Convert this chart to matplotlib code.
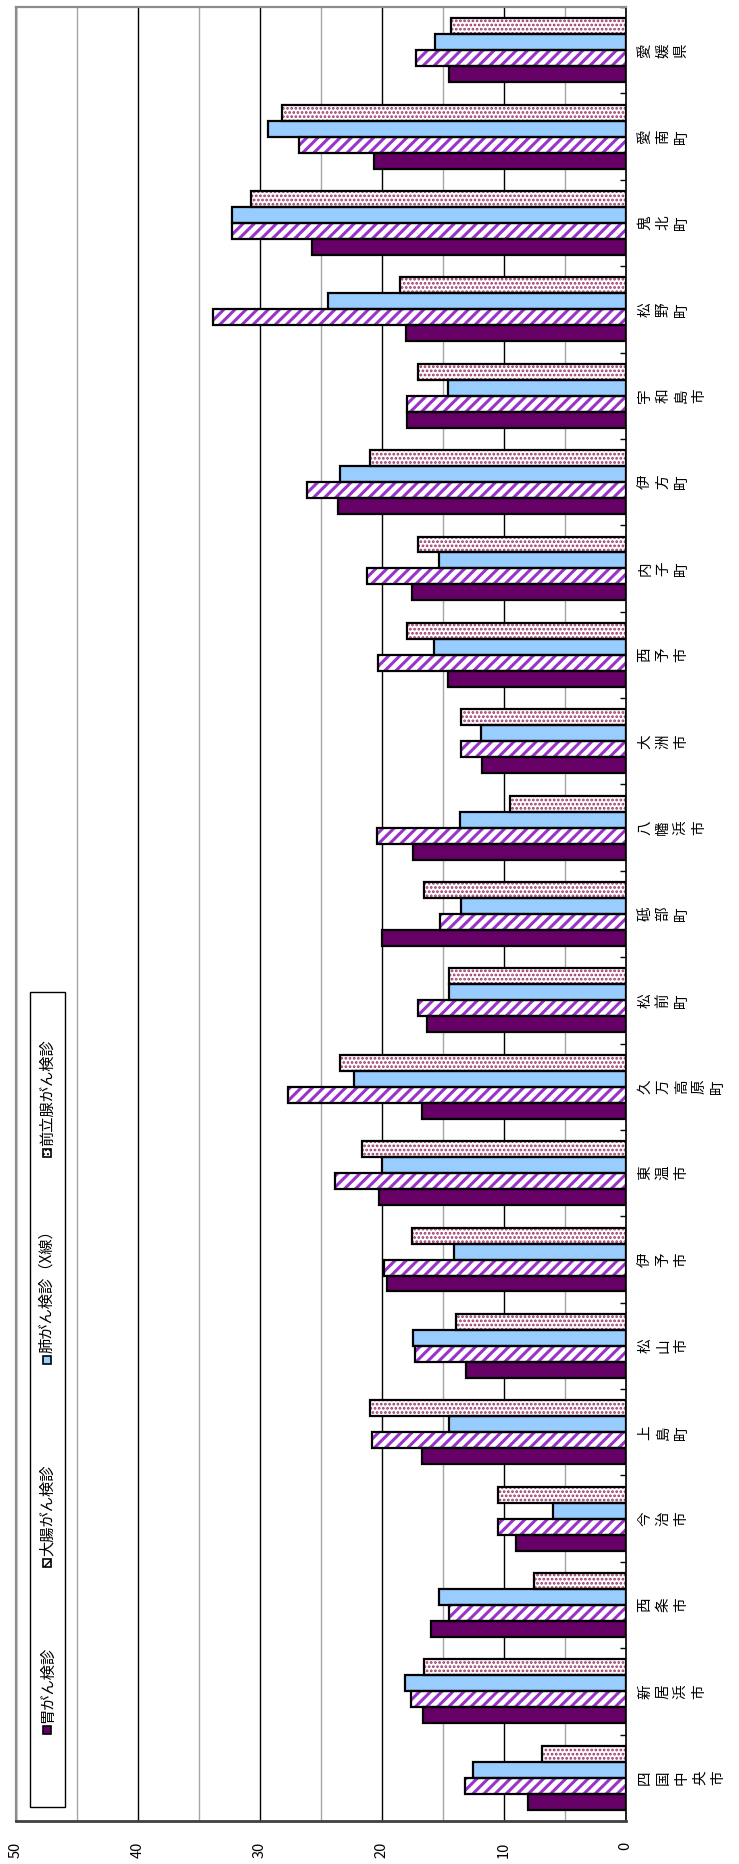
import matplotlib
matplotlib.use('Agg')
import matplotlib.pyplot as plt
from matplotlib.patches import Rectangle
import numpy as np

plt.rcParams['font.family'] = ['Noto Sans CJK JP', 'DejaVu Sans']

# Municipalities (bottom to top) and screening rates (%)
areas = ['四国中央市', '新居浜市', '西条市', '今治市', '上島町', '松山市', '伊予市',
         '東温市', '久万高原町', '松前町', '砥部町', '八幡浜市', '大洲市', '西予市',
         '内子町', '伊方町', '宇和島市', '松野町', '鬼北町', '愛南町', '愛媛県']
stomach = [8.0, 16.6, 16.0, 9.0, 16.7, 13.1, 19.6, 20.2, 16.7, 16.3, 20.0,
           17.4, 11.8, 14.6, 17.5, 23.6, 17.9, 18.0, 25.7, 20.6, 14.5]
colorectal = [13.2, 17.6, 14.5, 10.5, 20.8, 17.3, 19.8, 23.8, 27.7, 17.0, 15.2,
              20.4, 13.5, 20.3, 21.2, 26.1, 17.9, 33.8, 32.3, 26.8, 17.2]
lung = [12.5, 18.1, 15.3, 6.0, 14.5, 17.4, 14.1, 20.0, 22.3, 14.5, 13.5,
        13.6, 11.9, 15.7, 15.3, 23.4, 14.6, 24.4, 32.3, 29.3, 15.6]
prostate = [6.9, 16.5, 7.5, 10.5, 21.0, 13.9, 17.5, 21.6, 23.4, 14.5, 16.5,
            9.5, 13.5, 17.9, 17.0, 21.0, 17.0, 18.5, 30.7, 28.2, 14.3]
series_names = ['胃がん検診', '大腸がん検診', '肺がん検診（X線）', '前立腺がん検診']
value_ticks = [0, 10, 20, 30, 40, 50]

series_vals = [stomach, colorectal, lung, prostate]
styles = [
    dict(face='#660066', hatch=None, hcolor='#660066', hlw=1.0),
    dict(face='white', hatch='///', hcolor='#9933CC', hlw=2.2),
    dict(face='#99CCFF', hatch=None, hcolor='#99CCFF', hlw=1.0),
    dict(face='white', hatch='....', hcolor='#993366', hlw=1.3),
]

W, H = 739, 1864
fig = plt.figure(figsize=(W / 100, H / 100), dpi=100)
left_px, right_px, top_px, bot_px = 15.7, 625.7, 7, 1821
ax = fig.add_axes([left_px / W, 1 - bot_px / H, (right_px - left_px) / W, (bot_px - top_px) / H])

n = len(areas)
y = np.arange(n)
h = 0.185
for k, (vals, st) in enumerate(zip(series_vals, styles)):
    pos = y + (k - 1.5) * h
    with plt.rc_context({'hatch.linewidth': st['hlw']}):
        bars = ax.barh(pos, vals, height=h, color=st['face'], edgecolor=st['hcolor'],
                       hatch=st['hatch'], linewidth=0, zorder=3)
    for b in bars:
        if hasattr(b, 'set_hatch_linewidth'):
            b.set_hatch_linewidth(st['hlw'])
    ax.barh(pos, vals, height=h, facecolor='none', edgecolor='black',
            linewidth=1.6, zorder=4)

ax.set_xlim(50, 0)
ax.set_ylim(-0.5, n - 0.5)

# value axis
ax.set_xticks(value_ticks)
ax.set_xticks(np.arange(5, 50, 10), minor=True)
ax.set_xticklabels([str(v) for v in value_ticks])
ax.tick_params(axis='x', which='both', length=0, pad=15, labelsize=10.5,
               labelrotation=90)
ax.grid(which='major', axis='x', color='black', linewidth=1.0, zorder=1)
ax.grid(which='minor', axis='x', color='#A6A6A6', linewidth=1.0, zorder=1)
ax.set_axisbelow(True)

# category axis on the right, vertical labels
ax.yaxis.tick_right()
ax.set_yticks(y)
ax.set_yticklabels(['\n'.join(a) for a in areas], rotation=90, ha='left',
                   va='center', fontsize=10.5, linespacing=1.38)
ax.set_yticks(np.arange(n + 1) - 0.5, minor=True)
ax.tick_params(axis='y', which='major', length=0, pad=9)
ax.tick_params(axis='y', which='minor', direction='in', length=4, width=1,
               color='black', right=True, left=False)

for side in ('top', 'left'):
    ax.spines[side].set_color('#8C8C8C')
    ax.spines[side].set_linewidth(1.6)
ax.spines['right'].set_color('black')
ax.spines['right'].set_linewidth(1.2)
ax.spines['bottom'].set_color('#404040')
ax.spines['bottom'].set_linewidth(2.0)

# legend box with vertical entries
def fx(px):
    return px / W

def fy(py):
    return 1 - py / H

fig.add_artist(Rectangle((fx(30), fy(1807)), fx(35), 815 / H, transform=fig.transFigure,
                         facecolor='white', edgecolor='black', linewidth=1.0, zorder=5))
entry_y = [1730, 1563, 1360, 1153]
for name, st, ey in zip(series_names, styles, entry_y):
    fig.add_artist(Rectangle((fx(43), fy(ey + 4)), fx(8), 8 / H, transform=fig.transFigure,
                             facecolor=st['face'], edgecolor='black', hatch=st['hatch'],
                             linewidth=1.2, zorder=6))
    fig.text(fx(47), fy(ey - 7), name, rotation=90, ha='center', va='bottom',
             fontsize=11, zorder=6)

fig.savefig('out.png', dpi=100)
